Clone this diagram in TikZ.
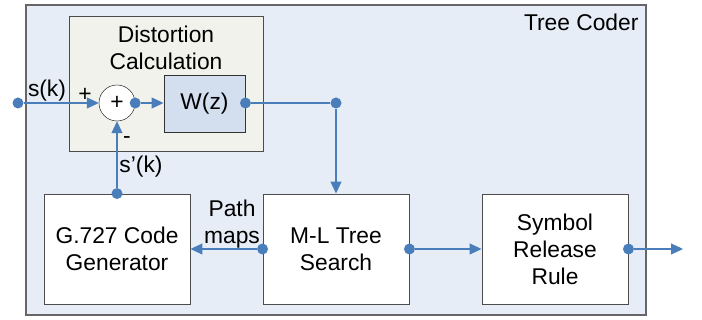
\documentclass[tikz,border=0pt]{standalone}
\usepackage{fontspec}
\setmainfont{Liberation Sans}
\usepackage{tikz}
\usetikzlibrary{arrows.meta}
\definecolor{linkblue}{HTML}{4A7EBB}
\definecolor{coderfill}{HTML}{E7EDF7}
\definecolor{distfill}{HTML}{F2F2EC}
\definecolor{wfill}{HTML}{D3DEEF}
\tikzset{
  block/.style={draw=black!70, fill=white, line width=0.9pt, minimum width=146pt, minimum height=110pt, align=center, inner sep=0pt},
  dot/.style={circle, fill=linkblue, inner sep=0pt, minimum size=11pt},
  link/.style={draw=linkblue, line width=1.1pt},
  arrowlink/.style={link, -{Triangle[length=12pt,width=11pt]}},
}

\begin{document}
\begin{tikzpicture}[x=1pt, y=-1pt, font=\fontsize{22.8}{27}\selectfont]
  \useasboundingbox (0,0) rectangle (702,320);
  \node[draw=black!60, fill=coderfill, line width=1.2pt, minimum width=620pt, minimum height=310pt, inner sep=0pt] (coder) at (336,160) {};
  \node[anchor=east] (codername) at (642,22) {Tree Coder};
  \node[draw=black!70, fill=distfill, line width=0.9pt, minimum width=194pt, minimum height=135pt, inner sep=0pt] (dist) at (166,83.5) {};
  \node[align=center] (distname) at (166,48) {Distortion\\Calculation};
  \node[circle, draw=black, fill=white, minimum size=36pt, inner sep=0pt] (sum) at (117,103) {+};
  \node[draw=black!80, fill=wfill, line width=0.9pt, minimum width=81pt, minimum height=57pt, inner sep=0pt] (wz) at (204.5,103.5) {W(z)};
  \node[block] (gen) at (117,249) {G.727 Code\\Generator};
  \node[block] (tree) at (336,249) {M-L Tree\\Search};
  \node[block] (rule) at (555,249) {Symbol\\Release\\Rule};
  % dots
  \node[dot] (in) at (18,103) {};
  \node[dot] (sumout) at (sum.east) {};
  \node[dot] (wzout) at (wz.east |- sum) {};
  \node[dot] (split) at (336,103) {};
  \node[dot] (gentop) at (gen.north) {};
  \node[dot] (treeleft) at (tree.west) {};
  \node[dot] (treeright) at (tree.east) {};
  \node[dot] (ruleright) at (rule.east) {};
  \coordinate (out) at (683,249);
  % connectors
  \draw[arrowlink] (in) -- (sum.west);
  \draw[arrowlink] (sumout) -- (wz.west |- sum);
  \draw[link] (wzout) -- (split);
  \draw[arrowlink] (split) -- (tree.north);
  \draw[arrowlink] (gentop) -- (sum.south);
  \draw[arrowlink] (treeleft) -- (gen.east);
  \draw[arrowlink] (treeright) -- (rule.west);
  \draw[arrowlink] (ruleright) -- (out);
  % labels
  \node (sk) at (47,91) {s(k)};
  \node (plus) at (85,95) {+};
  \node (minus) at (127,140) {-};
  \node (sdk) at (141,167) {s’(k)};
  \node[align=center] (pathmaps) at (232,224) {Path\\maps};
\end{tikzpicture}
\end{document}
